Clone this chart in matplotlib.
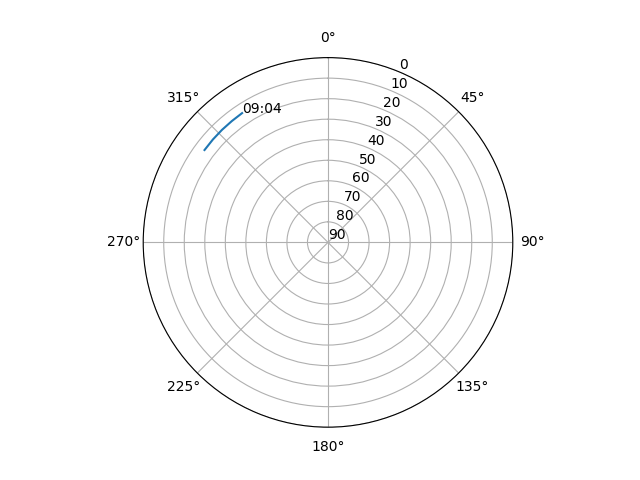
import numpy as np
import matplotlib
matplotlib.use("Agg")
import matplotlib.pyplot as plt

# sun path: azimuth (deg) and elevation (deg)
azimuth = [306.8, 311.8, 316.7, 321.6, 326.4]
elevation = [14.9, 14.8, 14.7, 14.6, 14.4]
label = "09:04"

fig = plt.figure(figsize=(6.4, 4.8))
ax = fig.add_subplot(111, projection='polar')
ax.set_theta_zero_location('N')
ax.set_theta_direction(-1)

theta = np.radians(azimuth)
ax.plot(theta, elevation)
ax.text(theta[-1], elevation[-1], label)

ax.set_rlim(90, 0)
ax.set_yticks(range(0, 91, 10))
ax.grid(True)

fig.savefig("out.png", dpi=100)
